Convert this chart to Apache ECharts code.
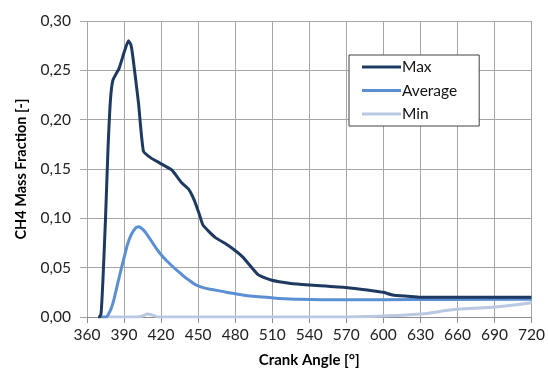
<!DOCTYPE html>
<html>
<head>
<meta charset="utf-8">
<script src="https://cdn.jsdelivr.net/npm/echarts@6/dist/echarts.min.js"></script>
<style>
html,body{margin:0;padding:0;background:#fff;}
#c{width:548px;height:373px;}
</style>
</head>
<body>
<div id="c"></div>
<script>
const xTicks = [360, 390, 420, 450, 480, 510, 540, 570, 600, 630, 660, 690, 720];
const yTicks = [0, 0.05, 0.10, 0.15, 0.20, 0.25, 0.30];

const maxAngles = [369, 370.5, 371.5, 373, 375, 377, 379, 381, 386, 390, 393.5, 395.5, 397, 401.7, 405.7, 412, 419, 428.6, 436.7, 442, 447, 451, 454, 463.5, 475, 486, 498.5, 509, 525, 540, 570, 591, 600, 607.5, 620, 630, 660, 690, 720];
const maxValues = [0, 0, 0.005, 0.04, 0.10, 0.17, 0.22, 0.24, 0.252, 0.268, 0.280, 0.276, 0.265, 0.217, 0.168, 0.161, 0.156, 0.149, 0.136, 0.130, 0.118, 0.104, 0.093, 0.081, 0.072, 0.061, 0.043, 0.0375, 0.034, 0.0325, 0.030, 0.0267, 0.025, 0.0223, 0.021, 0.020, 0.020, 0.020, 0.020];

const avgAngles = [372, 375, 377, 380, 383, 386, 390, 394, 398, 401.5, 405, 410, 419, 427, 435, 443, 451, 465, 478, 490, 505, 520, 532, 560, 600, 650, 720];
const avgValues = [0, 0, 0.002, 0.010, 0.024, 0.040, 0.060, 0.078, 0.088, 0.0915, 0.089, 0.081, 0.0646, 0.054, 0.045, 0.037, 0.031, 0.027, 0.024, 0.0215, 0.020, 0.0185, 0.018, 0.0175, 0.0175, 0.0178, 0.018];

const minAngles = [376, 400, 405, 409, 413, 418, 560, 600, 630, 659, 688, 720];
const minValues = [0, 0, 0.001, 0.003, 0.002, 0, 0, 0.001, 0.003, 0.0078, 0.0098, 0.0145];

const seriesNames = ['Max', 'Average', 'Min'];

function pairs(a, v) { return a.map((x, i) => [x, v[i]]); }

const FONT = 'Lato, "Open Sans", sans-serif';
const chart = echarts.init(document.getElementById('c'), null, {renderer: 'canvas'});
chart.setOption({
  animation: false,
  backgroundColor: '#fff',
  grid: {left: 87, right: 15, top: 21, bottom: 56, containLabel: false},
  xAxis: {
    type: 'value', min: xTicks[0], max: xTicks[xTicks.length - 1], interval: 30,
    name: 'Crank Angle [°]', nameLocation: 'middle', nameGap: 36,
    nameTextStyle: {fontFamily: FONT, fontSize: 15, fontWeight: 'bold', color: '#000'},
    axisLine: {show: true, lineStyle: {color: '#8c8c8c', width: 1}},
    axisTick: {show: true, inside: false, length: 6, lineStyle: {color: '#8c8c8c'}},
    axisLabel: {fontFamily: FONT, fontSize: 15.5, color: '#222', margin: 10},
    splitLine: {show: true, lineStyle: {color: '#a6a6a6', width: 1}}
  },
  yAxis: {
    type: 'value', min: yTicks[0], max: yTicks[yTicks.length - 1], interval: 0.05,
    name: 'CH4 Mass Fraction [-]', nameLocation: 'middle', nameGap: 58,
    nameTextStyle: {fontFamily: FONT, fontSize: 14.5, fontWeight: 'bold', color: '#000'},
    axisLine: {show: false},
    axisTick: {show: true, inside: false, length: 7, lineStyle: {color: '#a6a6a6'}},
    axisLabel: {fontFamily: FONT, fontSize: 15.5, color: '#222', margin: 16,
      formatter: v => v.toFixed(2).replace('.', ',')},
    splitLine: {show: true, lineStyle: {color: '#a6a6a6', width: 1}}
  },
  legend: {
    orient: 'vertical', left: 349, top: 55,
    padding: [4, 22, 4, 13], itemGap: 7.5,
    backgroundColor: '#fff', borderColor: '#404040', borderWidth: 1,
    itemWidth: 39, itemHeight: 3, icon: 'rect',
    textStyle: {fontFamily: FONT, fontSize: 15.5, color: '#111', padding: [0, 0, 0, -4], lineHeight: 16},
    data: seriesNames
  },
  series: [
    {name: seriesNames[2], type: 'line', data: pairs(minAngles, minValues), smooth: 0.4, showSymbol: false,
     lineStyle: {color: '#b8c9e1', width: 3}, itemStyle: {color: '#b8c9e1'}, z: 1},
    {name: seriesNames[1], type: 'line', data: pairs(avgAngles, avgValues), smooth: 0.5, showSymbol: false,
     lineStyle: {color: '#5b8fd4', width: 3}, itemStyle: {color: '#5b8fd4'}, z: 2},
    {name: seriesNames[0], type: 'line', data: pairs(maxAngles, maxValues), smooth: 0.15, showSymbol: false,
     lineStyle: {color: '#1f3a60', width: 3}, itemStyle: {color: '#1f3a60'}, z: 3}
  ]
});
</script>
</body>
</html>
